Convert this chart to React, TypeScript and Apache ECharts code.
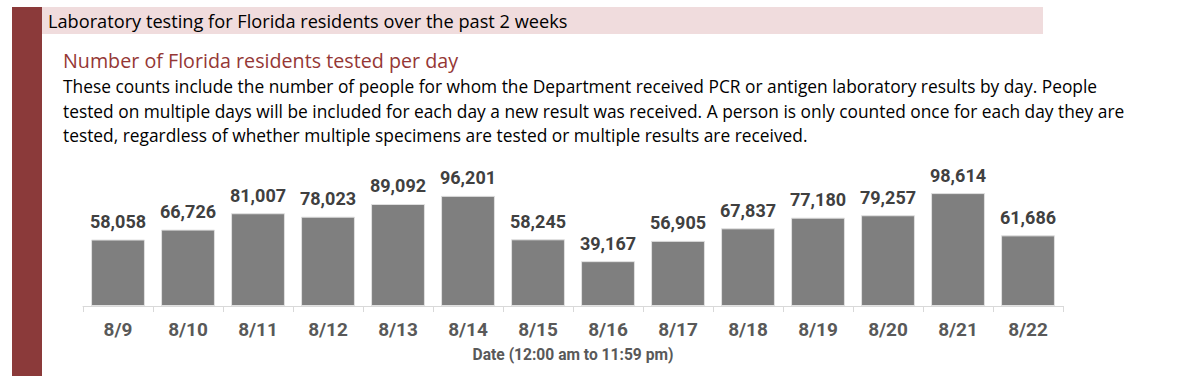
import React, { useEffect, useRef } from "react";
import * as echarts from "echarts";

const categories = ["8/9", "8/10", "8/11", "8/12", "8/13", "8/14", "8/15", "8/16", "8/17", "8/18", "8/19", "8/20", "8/21", "8/22"];
const tested = [58058, 66726, 81007, 78023, 89092, 96201, 58245, 39167, 56905, 67837, 77180, 79257, 98614, 61686];

const headerTitle = "Laboratory testing for Florida residents over the past 2 weeks";
const chartTitle = "Number of Florida residents tested per day";
const descLines = [
  "These counts include the number of people for whom the Department received PCR or antigen laboratory results by day. People",
  "tested on multiple days will be included for each day a new result was received. A person is only counted once for each day they are",
  "tested, regardless of whether multiple specimens are tested or multiple results are received.",
];
const xAxisName = "Date (12:00 am to 11:59 pm)";

const FONT = "'Roboto', sans-serif";
const TEXT_FONT = "'Open Sans', sans-serif";

export default function App() {
  const ref = useRef<HTMLDivElement>(null);
  useEffect(() => {
    if (!ref.current) return;
    const chart = echarts.init(ref.current, null, { renderer: "svg" });
    chart.setOption({
      animation: false,
      textStyle: { fontFamily: FONT },
      grid: { left: 83, right: 137, top: 191.5, bottom: 70, containLabel: false },
      graphic: [
        { type: "rect", shape: { x: 12, y: 7, width: 30, height: 369 }, style: { fill: "#8B3A3A" } },
        { type: "rect", shape: { x: 42, y: 7, width: 1001, height: 27 }, style: { fill: "#F0DCDD" } },
        { type: "text", x: 48, y: 20.5, style: { text: headerTitle, fill: "#000", font: `18.2px ${TEXT_FONT}`, textVerticalAlign: "middle" } },
        { type: "text", x: 63, y: 60, style: { text: chartTitle, fill: "#953735", font: `19.7px ${TEXT_FONT}`, textVerticalAlign: "middle" } },
        ...descLines.map((t, i) => ({
          type: "text", x: 63, y: 86 + i * 24.5,
          style: { text: t, fill: "#000", font: `17.35px ${TEXT_FONT}`, textVerticalAlign: "middle" },
        })),
      ],
      xAxis: {
        type: "category",
        data: categories,
        axisLine: { lineStyle: { color: "#D9D9D9", width: 1 } },
        axisTick: { show: true, length: 6, lineStyle: { color: "#D9D9D9" } },
        axisLabel: { color: "#595959", fontSize: 19, fontWeight: "bold", margin: 14, fontFamily: FONT },
        name: xAxisName,
        nameLocation: "middle",
        nameGap: 41,
        nameTextStyle: { color: "#595959", fontSize: 15.6, fontWeight: "bold", fontFamily: FONT },
      },
      yAxis: {
        type: "value",
        min: 0,
        max: 100000,
        show: false,
        splitLine: { show: false },
      },
      series: [
        {
          type: "bar",
          data: tested,
          barCategoryGap: "23%",
          itemStyle: { color: "#7F7F7F", borderColor: "#E0E0E0", borderWidth: 1 },
          label: {
            show: true,
            position: "top",
            distance: 9,
            color: "#404040",
            fontSize: 18,
            fontWeight: "bold",
            fontFamily: FONT,
            formatter: (p: any) => p.value.toLocaleString("en-US"),
          },
        },
      ],
    });
    return () => chart.dispose();
  }, []);
  return <div ref={ref} style={{ width: 1200, height: 376, position: "absolute", left: 0, top: 0 }} />;
}
